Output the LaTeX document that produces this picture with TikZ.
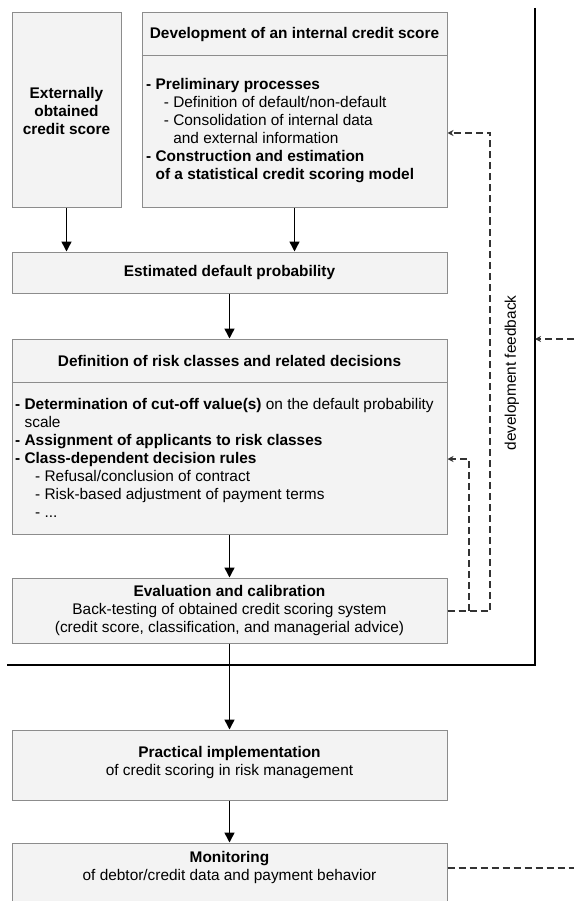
\documentclass[tikz,border=0pt]{standalone}
\usepackage{fontspec}
\setmainfont{Liberation Sans}
\usetikzlibrary{arrows.meta}
\definecolor{boxline}{HTML}{8C8C8C}
\definecolor{boxfill}{HTML}{F3F3F3}
\definecolor{fbcol}{HTML}{333333}
\newcommand\myfs{\fontsize{15.4}{18}\selectfont}
\begin{document}
\begin{tikzpicture}[x=1pt,y=-1pt,
  box/.style={draw=boxline, fill=boxfill, line width=1pt, rectangle, inner sep=0pt},
  txt/.style={font=\myfs, text=black, inner sep=0pt},
  arr/.style={line width=1.5pt, -{Triangle[length=10pt,width=10pt]}},
  fb/.style={draw=fbcol, line width=1.3pt, dash pattern=on 7pt off 4pt},
  fbarr/.style={fb, -{Stealth[length=6pt,width=6pt]}}]
\useasboundingbox (0,0) rectangle (574,901);
\clip (0,0) rectangle (574,901);

% boxes
\node[box, minimum width=109pt, minimum height=195pt] (ext) at (66.5,110.5) {};
\node[box, minimum width=305pt, minimum height=195pt] (dev) at (294.5,110.5) {};
\node[box, minimum width=435pt, minimum height=41pt] (est) at (229.5,272.5) {};
\node[box, minimum width=435pt, minimum height=195pt] (def) at (229.5,436.5) {};
\node[box, minimum width=435pt, minimum height=65pt] (eval) at (229.5,610.5) {};
\node[box, minimum width=435pt, minimum height=70pt] (prac) at (229.5,765) {};
\node[box, minimum width=435pt, minimum height=70pt] (mon) at (229.5,878) {};

% dividers
\coordinate (devdiv) at (0,56);
\coordinate (defdiv) at (0,382);
\draw[draw=boxline, line width=1pt] (dev.west |- devdiv) -- (dev.east |- devdiv);
\draw[draw=boxline, line width=1pt] (def.west |- defdiv) -- (def.east |- defdiv);

% texts
\node[txt, align=center, font=\myfs\bfseries] (exttext) at (66.5,110.5)
  {Externally\\obtained\\credit score};
\node[txt, font=\myfs\bfseries] (devhead) at (294.5,34.5) {Development of an internal credit score};
\node[txt, align=left, anchor=west] (devtext) at (146,130.5)
  {\textbf{- Preliminary processes}\\
   \hspace*{1.15em}- Definition of default/non-default\\
   \hspace*{1.15em}- Consolidation of internal data\\
   \hspace*{1.15em}\phantom{- }and external information\\
   \textbf{- Construction and estimation}\\
   \textbf{\phantom{- }of a statistical credit scoring model}};
\node[txt, font=\myfs\bfseries] (esttext) at (229.5,272.5) {Estimated default probability};
\node[txt, font=\myfs\bfseries] (defhead) at (229.5,360.5) {Definition of risk classes and related decisions};
\node[txt, align=left, anchor=west] (deftext) at (15,458)
  {\textbf{- Determination of cut-off value(s)} on the default probability\\
   \phantom{\textbf{- }}scale\\
   \textbf{- Assignment of applicants to risk classes}\\
   \textbf{- Class-dependent decision rules}\\
   \hspace*{1.3em}- Refusal/conclusion of contract\\
   \hspace*{1.3em}- Risk-based adjustment of payment terms\\
   \hspace*{1.3em}- ...};
\node[txt, align=center] (evaltext) at (229.5,610.5)
  {\textbf{Evaluation and calibration}\\
   Back-testing of obtained credit scoring system\\
   (credit score, classification, and managerial advice)};
\node[txt, align=center] (practext) at (229.5,763)
  {\textbf{Practical implementation}\\of credit scoring in risk management};
\node[txt, align=center] (montext) at (229.5,868)
  {\textbf{Monitoring}\\of debtor/credit data and payment behavior};
\node[txt, rotate=90] (fblabel) at (512,373) {development feedback};

% frame lines
\coordinate (frtop) at (535,8);
\coordinate (frcorner) at (535,665);
\coordinate (frleft) at (7,665);
\draw[line width=1.5pt] (frtop) -- (frcorner) -- (frleft);

% solid arrows
\draw[arr] (ext.south) -- (ext.south |- est.north);
\draw[arr] (dev.south) -- (dev.south |- est.north);
\draw[arr] (est.south) -- (def.north);
\draw[arr] (def.south) -- (eval.north);
\draw[arr] (eval.south) -- (prac.north);
\draw[arr] (prac.south) -- (mon.north);

% feedback dashed
\coordinate (evalR) at (eval.east |- 0,611);
\coordinate (o1) at (490,611);
\coordinate (o2) at (490,133);
\coordinate (devin) at (dev.east |- 0,133);
\coordinate (i1) at (469,611);
\coordinate (i2) at (469,459);
\coordinate (defin) at (def.east |- 0,459);
\draw[fbarr] (evalR) -- (o1) -- (o2) -- (devin);
\draw[fbarr] (evalR) -- (i1) -- (i2) -- (defin);
\coordinate (extfb) at (574,339);
\draw[fbarr] (extfb) -- (frtop |- extfb);
\coordinate (monR) at (mon.east |- 0,868);
\coordinate (monout) at (574,868);
\draw[fb] (monR) -- (monout);
\end{tikzpicture}
\end{document}
